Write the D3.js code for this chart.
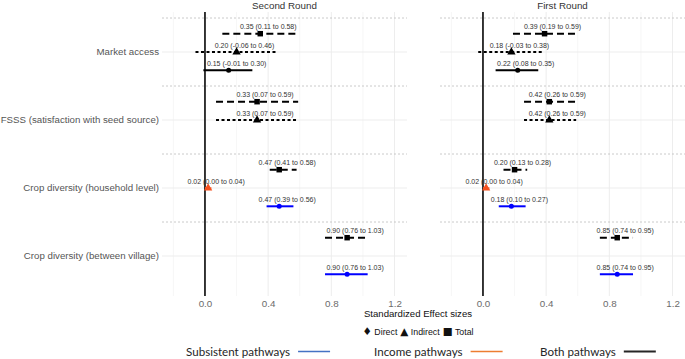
<!DOCTYPE html>
<html>
<head>
<meta charset="utf-8">
<script src="https://cdn.jsdelivr.net/npm/d3@7"></script>
<style>
    body { margin: 0; background: #fff; }
    svg { display: block; font-family: "Liberation Sans", Arial, sans-serif; }
</style>
</head>
<body>
<div id="forest"></div>
<script>
const rounds = ["Second Round", "First Round"];

const outcomes = [
    "Market access",
    "FSSS (satisfaction with seed source)",
    "Crop diversity (household level)",
    "Crop diversity (between village)"
];

const effectTypes = ["Total", "Indirect", "Direct"];

const xTicks = [0, 0.4, 0.8, 1.2];
const xMinorTicks = [-0.2, 0.2, 0.6, 1.0];

// outcome, effect, pathway, estimate, lower, upper
const secondRound = [
    ["Market access", "Total", "both", 0.35, 0.11, 0.58],
    ["Market access", "Indirect", "both", 0.20, -0.06, 0.46],
    ["Market access", "Direct", "both", 0.15, -0.01, 0.30],
    ["FSSS (satisfaction with seed source)", "Total", "both", 0.33, 0.07, 0.59],
    ["FSSS (satisfaction with seed source)", "Indirect", "both", 0.33, 0.07, 0.59],
    ["Crop diversity (household level)", "Total", "both", 0.47, 0.41, 0.58],
    ["Crop diversity (household level)", "Indirect", "income", 0.02, 0.00, 0.04],
    ["Crop diversity (household level)", "Direct", "subsistent", 0.47, 0.39, 0.56],
    ["Crop diversity (between village)", "Total", "both", 0.90, 0.76, 1.03],
    ["Crop diversity (between village)", "Direct", "subsistent", 0.90, 0.76, 1.03]
];

const firstRound = [
    ["Market access", "Total", "both", 0.39, 0.19, 0.59],
    ["Market access", "Indirect", "both", 0.18, -0.03, 0.38],
    ["Market access", "Direct", "both", 0.22, 0.08, 0.35],
    ["FSSS (satisfaction with seed source)", "Total", "both", 0.42, 0.26, 0.59],
    ["FSSS (satisfaction with seed source)", "Indirect", "both", 0.42, 0.26, 0.59],
    ["Crop diversity (household level)", "Total", "both", 0.20, 0.13, 0.28],
    ["Crop diversity (household level)", "Indirect", "income", 0.02, 0.00, 0.04],
    ["Crop diversity (household level)", "Direct", "subsistent", 0.18, 0.10, 0.27],
    ["Crop diversity (between village)", "Total", "both", 0.85, 0.74, 0.95],
    ["Crop diversity (between village)", "Direct", "subsistent", 0.85, 0.74, 0.95]
];

const pathwayLegend = ["Subsistent pathways", "Income pathways", "Both pathways"];
const shapeLegend = [["♦", "Direct"], ["▲", "Indirect"], ["■", "Total"]];

const width = 685;
const height = 359;

const markColor = { both: "#000000", subsistent: "#0000ff", income: "#f4511e" };
const legendColor = ["#4472c4", "#ed7d31", "#262626"];
const dashFor = { Total: "7,4", Indirect: "3,2.5", Direct: null };
const shapeFor = { Total: d3.symbolSquare, Indirect: d3.symbolTriangle, Direct: d3.symbolCircle };
const sizeFor = { Total: 30, Indirect: 30, Direct: 20 };

const svg = d3.select("#forest")
    .append("svg")
    .attr("width", width)
    .attr("height", height);

const panelTop = 12;
const panelBottom = 296;
const panelWidth = 245;
const panelLefts = [162, 440];

const yScale = d3.scalePoint()
    .domain(outcomes)
    .range([52, 256]);

const offsetScale = d3.scalePoint()
    .domain(effectTypes)
    .range([-18.3, 18.3]);

const toRow = r => ({ outcome: r[0], effect: r[1], pathway: r[2], est: r[3], lo: r[4], hi: r[5] });
const fmt = v => v.toFixed(2);

[secondRound, firstRound].forEach((rows, i) => {
    const data = rows.map(toRow);
    const left = panelLefts[i];

    const xScale = d3.scaleLinear()
        .domain([-0.272, 1.279])
        .range([left, left + panelWidth]);

    const panel = svg.append("g");

    // grid
    panel.selectAll(".minor")
        .data(xMinorTicks)
        .join("line")
            .attr("x1", d => xScale(d))
            .attr("x2", d => xScale(d))
            .attr("y1", panelTop)
            .attr("y2", panelBottom)
            .attr("stroke", "#f0f0f0")
            .attr("stroke-width", 0.6);

    panel.selectAll(".major")
        .data(xTicks)
        .join("line")
            .attr("x1", d => xScale(d))
            .attr("x2", d => xScale(d))
            .attr("y1", panelTop)
            .attr("y2", panelBottom)
            .attr("stroke", "#ebebeb")
            .attr("stroke-width", 0.9);

    panel.selectAll(".hgrid")
        .data(outcomes)
        .join("line")
            .attr("x1", left)
            .attr("x2", left + panelWidth)
            .attr("y1", d => yScale(d))
            .attr("y2", d => yScale(d))
            .attr("stroke", "#ebebeb")
            .attr("stroke-width", 0.9);

    // dotted separators above each outcome
    panel.selectAll(".sep")
        .data(outcomes)
        .join("line")
            .attr("x1", left)
            .attr("x2", left + panelWidth)
            .attr("y1", d => yScale(d) - yScale.step() / 2)
            .attr("y2", d => yScale(d) - yScale.step() / 2)
            .attr("stroke", "#c4c4c4")
            .attr("stroke-width", 0.9)
            .attr("stroke-dasharray", "2,2");

    // zero line
    panel.append("line")
        .attr("x1", xScale(0))
        .attr("x2", xScale(0))
        .attr("y1", panelTop)
        .attr("y2", panelBottom)
        .attr("stroke", "#222")
        .attr("stroke-width", 1.8);

    // title
    svg.append("text")
        .text(rounds[i])
        .attr("x", left + panelWidth / 2)
        .attr("y", 9)
        .attr("text-anchor", "middle")
        .attr("font-size", "9.8px")
        .attr("fill", "#333");

    // x axis
    const axis = svg.append("g")
        .attr("transform", `translate(0, ${panelBottom})`)
        .call(d3.axisBottom(xScale)
            .tickValues(xTicks)
            .tickFormat(d3.format(".1f"))
            .tickSize(0)
            .tickPadding(4));
    axis.select(".domain").remove();
    axis.selectAll("text")
        .attr("font-family", "Liberation Sans, Arial, sans-serif")
        .attr("font-size", "9.8px")
        .attr("fill", "#6b6b6b");

    const yOf = d => yScale(d.outcome) + offsetScale(d.effect);

    // interval lines
    panel.selectAll(".ci")
        .data(data)
        .join("line")
            .attr("x1", d => xScale(d.lo))
            .attr("x2", d => xScale(d.hi))
            .attr("y1", yOf)
            .attr("y2", yOf)
            .attr("stroke", d => markColor[d.pathway])
            .attr("stroke-width", 2)
            .attr("stroke-dasharray", d => dashFor[d.effect]);

    // points
    panel.selectAll(".pt")
        .data(data)
        .join("path")
            .attr("d", d => d3.symbol(shapeFor[d.effect], sizeFor[d.effect])())
            .attr("transform", d => `translate(${xScale(d.est)}, ${yOf(d)})`)
            .attr("fill", d => markColor[d.pathway]);

    // labels
    panel.selectAll(".lbl")
        .data(data)
        .join("text")
            .text(d => `${fmt(d.est)} (${fmt(d.lo)} to ${fmt(d.hi)})`)
            .attr("x", d => xScale(d.est) + 8)
            .attr("y", d => yOf(d) - 4.5)
            .attr("text-anchor", "middle")
            .attr("font-size", "7px")
            .attr("fill", "#333");
});

// outcome labels
svg.selectAll(".ylab")
    .data(outcomes)
    .join("text")
        .text(d => d)
        .attr("x", 159)
        .attr("y", d => yScale(d))
        .attr("dy", "0.35em")
        .attr("text-anchor", "end")
        .attr("font-size", "9.7px")
        .attr("fill", "#555");

// axis title
svg.append("text")
    .text("Standardized Effect sizes")
    .attr("x", 418)
    .attr("y", 317)
    .attr("text-anchor", "middle")
    .attr("font-size", "9.6px")
    .attr("fill", "#111");

// shape legend
const shapeText = svg.append("text")
    .attr("x", 418)
    .attr("y", 335)
    .attr("text-anchor", "middle")
    .attr("font-size", "8.8px")
    .attr("fill", "#111");
shapeLegend.forEach(([glyph, label], i) => {
    shapeText.append("tspan")
        .text(glyph)
        .attr("font-family", "DejaVu Sans, sans-serif")
        .attr("font-size", "10.5px")
        .attr("dx", i === 0 ? 0 : 3);
    shapeText.append("tspan")
        .text(" " + label);
});

// pathway legend
const legendX = [186, 374, 540];
pathwayLegend.forEach((label, i) => {
    const t = svg.append("text")
        .text(label)
        .attr("x", legendX[i])
        .attr("y", 356)
        .attr("font-family", "Lato, 'Open Sans', sans-serif")
        .attr("font-size", "11.6px")
        .attr("fill", "#262626");
    const w = t.node().getComputedTextLength();
    svg.append("line")
        .attr("x1", legendX[i] + w + 8)
        .attr("x2", legendX[i] + w + 40)
        .attr("y1", 351.5)
        .attr("y2", 351.5)
        .attr("stroke", legendColor[i])
        .attr("stroke-width", i === 2 ? 2 : 1.4);
});
</script>
</body>
</html>
